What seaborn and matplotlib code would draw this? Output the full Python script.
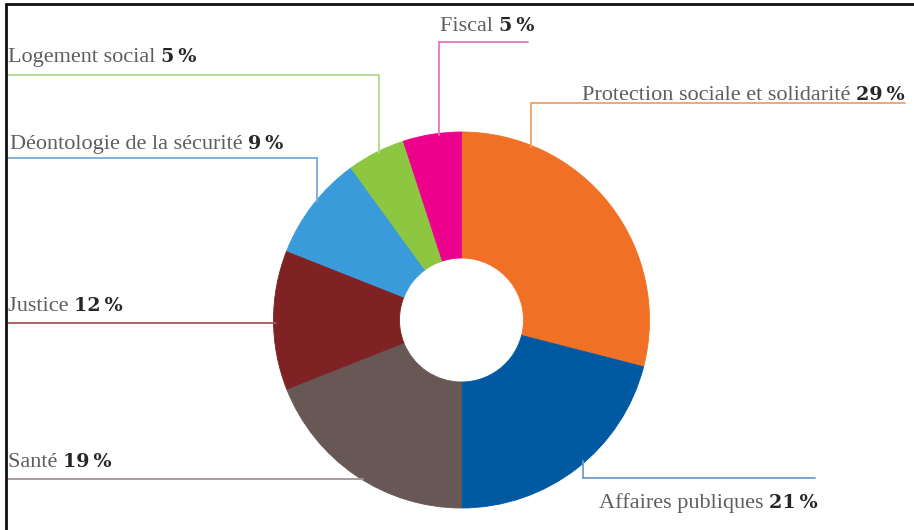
import matplotlib
matplotlib.use("Agg")
import matplotlib.pyplot as plt
import seaborn as sns
import numpy as np

# ---- data ----
categories = ["Protection sociale et solidarité", "Affaires publiques", "Santé",
              "Justice", "Déontologie de la sécurité", "Logement social", "Fiscal"]
values = [29, 21, 19, 12, 9, 5, 5]
pct_labels = ["29\u2009%", "21\u2009%", "19\u2009%", "12\u2009%", "9\u2009%", "5\u2009%", "5\u2009%"]
colors = ["#F07125", "#0059A1", "#675856", "#7E2223", "#3A9BDA", "#8DC641", "#EC008C"]
line_colors = ["#F0A068", "#6E9CCB", "#A39594", "#A85656", "#72AEDD", "#B0D98A", "#E874B8"]

sns.set_theme(style="white")
plt.rcParams["font.family"] = ["Liberation Serif", "DejaVu Serif"]

W, H = 914, 530
fig = plt.figure(figsize=(W / 100, H / 100), dpi=100)
ax = fig.add_axes([0, 0, 1, 1])

def Y(y):
    return H - y

cx, cy, R, r = 461.5, Y(320), 188, 62
wedges, _ = ax.pie(values, colors=colors, startangle=90, counterclock=False,
                   radius=R, center=(cx, cy), frame=True,
                   wedgeprops=dict(width=R - r, linewidth=0.6))
for w, c in zip(wedges, colors):
    w.set_edgecolor(c)
ax.set_xlim(0, W)
ax.set_ylim(0, H)
ax.set_aspect("equal")
ax.axis("off")

def edge_y(x, upper=True):
    dy = np.sqrt(max(R ** 2 - (x - cx) ** 2, 0))
    return cy + dy if upper else cy - dy

def edge_x(y, left=True):
    dx = np.sqrt(max(R ** 2 - (y - cy) ** 2, 0))
    return cx - dx if left else cx + dx

lw = 1.3
# Protection
i = 0
yl = Y(103); xv = 531
ax.plot([xv, 905], [yl, yl], color=line_colors[i], lw=lw)
ax.plot([xv, xv], [yl, edge_y(xv, True) - 2], color=line_colors[i], lw=lw)
# Affaires publiques
i = 1
yl = Y(478); xv = 583
ax.plot([xv, 815], [yl, yl], color=line_colors[i], lw=lw)
ax.plot([xv, xv], [yl, edge_y(xv, False) + 2], color=line_colors[i], lw=lw)
# Santé
i = 2
yl = Y(479)
ax.plot([7, edge_x(yl, True) + 2], [yl, yl], color=line_colors[i], lw=lw)
# Justice
i = 3
yl = Y(323)
ax.plot([7, edge_x(yl, True) + 2], [yl, yl], color=line_colors[i], lw=lw)
# Déontologie
i = 4
yl = Y(158); xv = 317
ax.plot([7, xv], [yl, yl], color=line_colors[i], lw=lw)
ax.plot([xv, xv], [yl, edge_y(xv, True) - 2], color=line_colors[i], lw=lw)
# Logement social
i = 5
yl = Y(75); xv = 379
ax.plot([7, xv], [yl, yl], color=line_colors[i], lw=lw)
ax.plot([xv, xv], [yl, edge_y(xv, True) - 2], color=line_colors[i], lw=lw)
# Fiscal
i = 6
yl = Y(42); xv = 439
ax.plot([xv, 528], [yl, yl], color=line_colors[i], lw=lw)
ax.plot([xv, xv], [yl, edge_y(xv, True) - 2], color=line_colors[i], lw=lw)

# ---- labels ----
fs = 16
pfs = 13.8
label_color = "#5E5E5E"
pct_color = "#262626"
renderer = fig.canvas.get_renderer()

def label_left(i, x, yb):
    t = ax.text(x, Y(yb), categories[i] + " ", ha="left", va="baseline",
                fontsize=fs, color=label_color)
    bb = t.get_window_extent(renderer=renderer)
    ax.text(bb.x1, Y(yb), pct_labels[i], ha="left", va="baseline", fontsize=pfs,
            color=pct_color, fontweight="bold", family=["DejaVu Serif"])

def label_right(i, x, yb):
    t = ax.text(x, Y(yb), pct_labels[i], ha="right", va="baseline", fontsize=pfs,
                color=pct_color, fontweight="bold", family=["DejaVu Serif"])
    bb = t.get_window_extent(renderer=renderer)
    ax.text(bb.x0, Y(yb), categories[i] + " ", ha="right", va="baseline",
            fontsize=fs, color=label_color)

label_right(0, 905, 100)
label_right(1, 818, 508)
label_left(2, 8, 467)
label_left(3, 8, 311)
label_left(4, 10, 149)
label_left(5, 8, 62)
label_left(6, 440, 31)

# frame lines (top and left)
ax.plot([5.5, W], [Y(3.5), Y(3.5)], color="#111111", lw=2, clip_on=False)
ax.plot([5.5, 5.5], [Y(3.5), 0], color="#111111", lw=2, clip_on=False)

fig.savefig("out.png", dpi=100)
